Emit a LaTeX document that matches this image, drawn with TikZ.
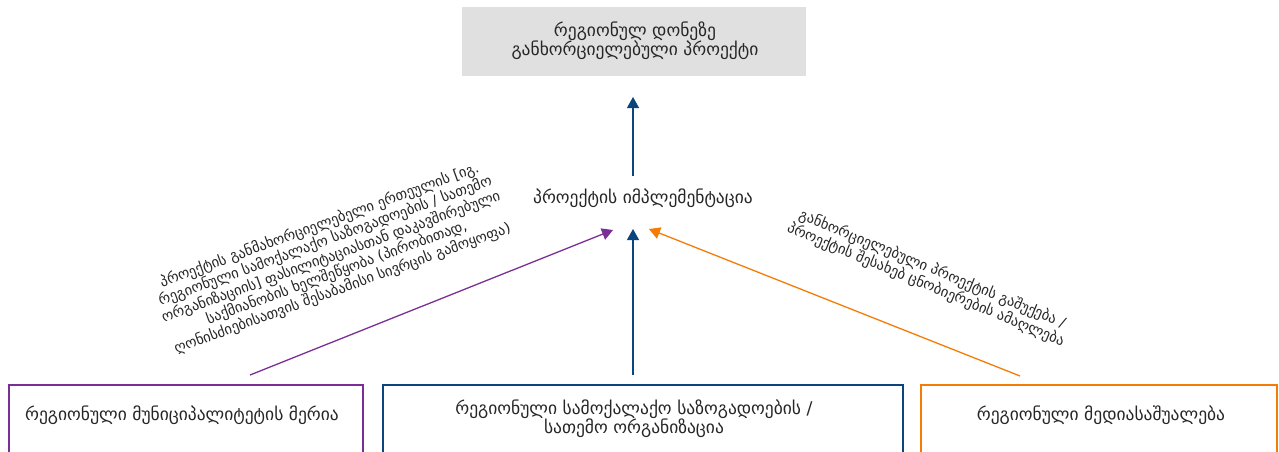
\documentclass[tikz,border=0pt]{standalone}
\usepackage{fontspec}
\setmainfont{DejaVu Sans}
\usetikzlibrary{arrows.meta}
\definecolor{cgray}{HTML}{E0E0E0}
\definecolor{cpurple}{HTML}{7B2F96}
\definecolor{cblue}{HTML}{0B457E}
\definecolor{corange}{HTML}{F47B06}
\tikzset{
  lbl/.style={font=\fontsize{14.5}{16.8}\selectfont, align=center, inner sep=0pt, text=black!85},
  boxtxt/.style={font=\fontsize{17.5}{19}\selectfont, align=center, inner sep=0pt, text=black!85},
  arr/.style={line width=1.3pt, -{Triangle[width=12pt,length=11pt]}},
  bottombox/.style={line width=2.2pt},
}
\begin{document}
\begin{tikzpicture}[x=1pt,y=-1pt]
\useasboundingbox (0,0) rectangle (1279,452);
\clip (0,0) rectangle (1279,452);
% top box
\fill[cgray] (462,7) rectangle (806,76);
\node[boxtxt] (top) at (635,41) {რეგიონულ დონეზე\\განხორციელებული პროექტი};
\coordinate (topin) at (633,97);
% middle label
\node[boxtxt] (mid) at (643,198) {პროექტის იმპლემენტაცია};
\coordinate (midtop) at (633,176);
\coordinate (midL) at (613,230);
\coordinate (midC) at (633,229);
\coordinate (midR) at (649,229);
% bottom boxes
\draw[bottombox, cpurple] (9,470) -- (9,385) -- (363,385) -- (363,470);
\draw[bottombox, cblue] (383,470) -- (383,385) -- (903,385) -- (903,470);
\draw[bottombox, corange] (921,470) -- (921,385) -- (1277,385) -- (1277,470);
\node[boxtxt] (muni) at (182,415) {რეგიონული მუნიციპალიტეტის მერია};
\node[boxtxt] (cso) at (634,419) {რეგიონული სამოქალაქო საზოგადოების /\\სათემო ორგანიზაცია};
\node[boxtxt] (media) at (1101,415) {რეგიონული მედიასაშუალება};
\coordinate (muniout) at (250,375);
\coordinate (csoout) at (633,375);
\coordinate (mediaout) at (1020,376);
% arrows
\draw[arr, cblue] (midtop) -- (topin);
\draw[arr, cblue] (csoout) -- (midC);
\draw[arr, cpurple] (muniout) -- (midL);
\draw[arr, corange] (mediaout) -- (midR);
% edge labels
\node[lbl, rotate=20] (lblL) at (331,257) {პროექტის განმახორციელებელი ერთეულის [იგ.\\რეგიონული სამოქალაქო საზოგადოების / სათემო\\ორგანიზაციის] ფასილიტაციასთან დაკავშირებული\\საქმიანობის ხელშეწყობა (პირობითად,\\ღონისძიებისათვის შესაბამისი სივრცის გამოყოფა)};
\node[lbl, rotate=-22.5] (lblR) at (929,277) {განხორციელებული პროექტის გაშუქება /\\პროექტის შესახებ ცნობიერების ამაღლება};
\end{tikzpicture}
\end{document}
